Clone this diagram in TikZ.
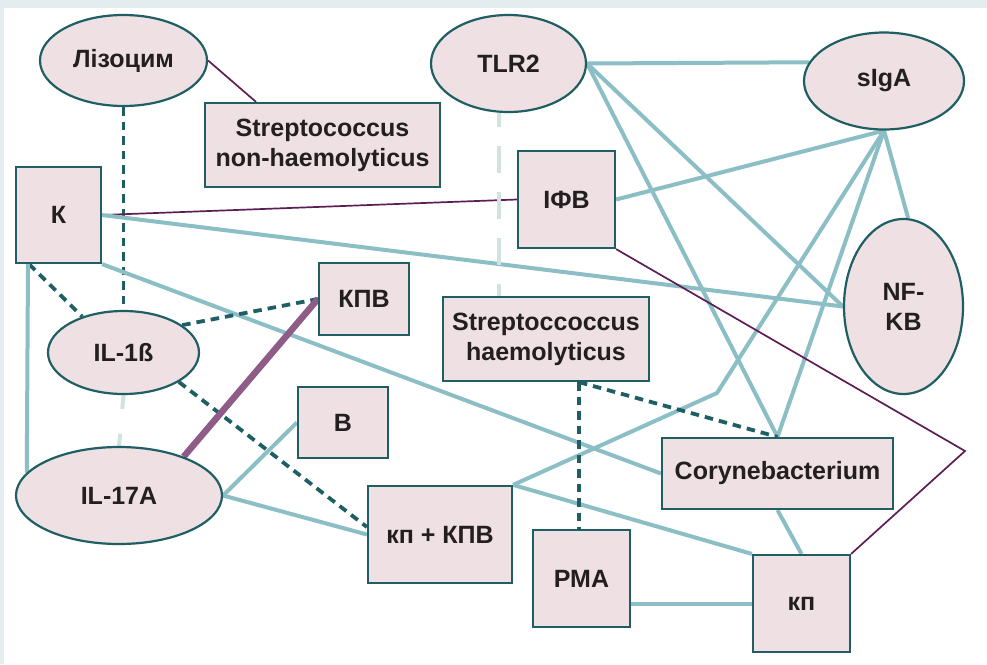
\documentclass[tikz,border=0pt]{standalone}
\usepackage{fontspec}
\setmainfont{Liberation Sans}
\usetikzlibrary{shapes.geometric,backgrounds}
\definecolor{framec}{HTML}{E3ECEF}
\definecolor{nodefill}{HTML}{EEE0E3}
\definecolor{nodeline}{HTML}{1F5F63}
\definecolor{tealline}{HTML}{8BBEC5}
\definecolor{paleline}{HTML}{D0E3DE}
\definecolor{plum}{HTML}{5E1D55}
\definecolor{mauve}{HTML}{8F5C88}
\definecolor{txt}{HTML}{231F20}
\begin{document}
\begin{tikzpicture}[x=1pt,y=-1pt,
  base/.style={draw=nodeline, line width=2.2pt, fill=nodefill, inner sep=0pt, text=txt,
    font=\fontsize{25}{30}\selectfont\bfseries, align=center},
  ell/.style={base, ellipse},
  box/.style={base, rectangle},
  tealedge/.style={draw=tealline, line width=4pt},
  darkdash/.style={draw=nodeline, line width=3.8pt, dash pattern=on 8.5pt off 6pt},
  paledash/.style={draw=paleline, line width=4pt, dash pattern=on 27pt off 19pt, dash phase=13pt},
  paledashb/.style={draw=paleline, line width=4pt, dash pattern=on 14pt off 25pt},
  plumthin/.style={draw=plum, line width=1.7pt},
  mauvethick/.style={draw=mauve, line width=6.5pt},
]
\useasboundingbox (0,0) rectangle (987,664);

\node[ell, minimum width=167pt, minimum height=91pt] (liz) at (123.5,60.5) {Лізоцим};
\node[box, minimum width=235pt, minimum height=84pt] (snh) at (322.5,145) {Streptococcus\\non-haemolyticus};
\node[ell, minimum width=155pt, minimum height=97pt] (tlr) at (508.5,63.5) {TLR2};
\node[ell, minimum width=160pt, minimum height=97pt] (sig) at (884,81) {sIgA};
\node[box, minimum width=97pt, minimum height=97pt] (ifb) at (566.5,199.5) {ІФВ};
\node[box, minimum width=85pt, minimum height=96pt] (kk) at (58.5,215) {К};
\node[box, minimum width=90pt, minimum height=72pt] (kpv) at (364,299) {КПВ};
\node[ell, minimum width=151pt, minimum height=83pt] (il1) at (123.5,352.5) {IL-1ß};
\node[ell, minimum width=206pt, minimum height=97pt] (il17) at (119,495.5) {IL-17A};
\node[box, minimum width=90pt, minimum height=71pt] (bb) at (343,422.5) {В};
\node[box, minimum width=144pt, minimum height=97pt] (kpk) at (440,534.5) {кп + КПВ};
\node[box, minimum width=206pt, minimum height=84pt] (sh) at (546,339) {Streptoccoccus\\haemolyticus};
\node[ell, minimum width=119pt, minimum height=175pt] (nf) at (903.5,306.5) {NF-\\KB};
\node[box, minimum width=231pt, minimum height=71pt] (cory) at (777.5,473.5) {Corynebacterium};
\node[box, minimum width=97pt, minimum height=97pt] (pma) at (581.5,578.5) {РМА};
\node[box, minimum width=97pt, minimum height=97pt] (kp) at (801.5,603.5) {кп};

\begin{scope}[on background layer]
  \fill[white] (0,0) rectangle (987,664);
  \fill[framec] (0,0) rectangle (987,8);
  \fill[framec] (0,0) rectangle (4,664);

  \draw[plumthin] (liz.east) -- ([xshift=-66.5pt]snh.north);
  \draw[darkdash] (liz.south) -- (il1.north);
  \draw[plumthin] (kk.east) -- (ifb.west);
  \draw[tealedge] (kk.east) -- (nf.west);
  \draw[tealedge] (kk.south east) -- (cory.west);
  \draw[darkdash] ([xshift=-29.5pt]kk.south) -- (il1.139);
  \draw[tealedge] ([xshift=-30.5pt]kk.south) -- (il17.166);
  \draw[darkdash] (il1.25) -- (kpv.west);
  \draw[paledashb] (il1.south) -- (il17.north);
  \draw[darkdash] (il1.-28) -- ([yshift=7.5pt]kpk.west);
  \draw[mauvethick] (il17.31) -- (kpv.west);
  \draw[tealedge] (il17.east) -- (bb.west);
  \draw[tealedge] (il17.east) -- (kpk.west);
  \draw[tealedge] (tlr.east) -- (sig.166);
  \draw[tealedge] (tlr.east) -- (cory.north);
  \draw[tealedge] (tlr.east) -- (nf.west);
  \draw[paledash] ([xshift=-9.5pt]tlr.south) -- ([xshift=-47pt]sh.north);
  \draw[tealedge] (sig.south) -- (ifb.east);
  \draw[tealedge] (sig.south) -- (nf.87);
  \draw[tealedge] (sig.south) -- (cory.north);
  \coordinate (bend1) at (717,393);
  \draw[tealedge] (sig.south) -- (bend1) -- (kpk.north east);
  \draw[tealedge] (kpk.north east) -- (kp.north west);
  \draw[darkdash] ([xshift=33pt]sh.south) -- (cory.north);
  \draw[darkdash] ([xshift=33pt]sh.south) -- ([xshift=-2.5pt]pma.north);
  \draw[tealedge] (kp.west -| pma.east) -- (kp.west);
  \draw[tealedge] (cory.south) -- (kp.north);
  \coordinate (bend2) at (965,451);
  \draw[plumthin] (ifb.south east) -- (bend2) -- (kp.north east);
\end{scope}
\end{tikzpicture}
\end{document}
